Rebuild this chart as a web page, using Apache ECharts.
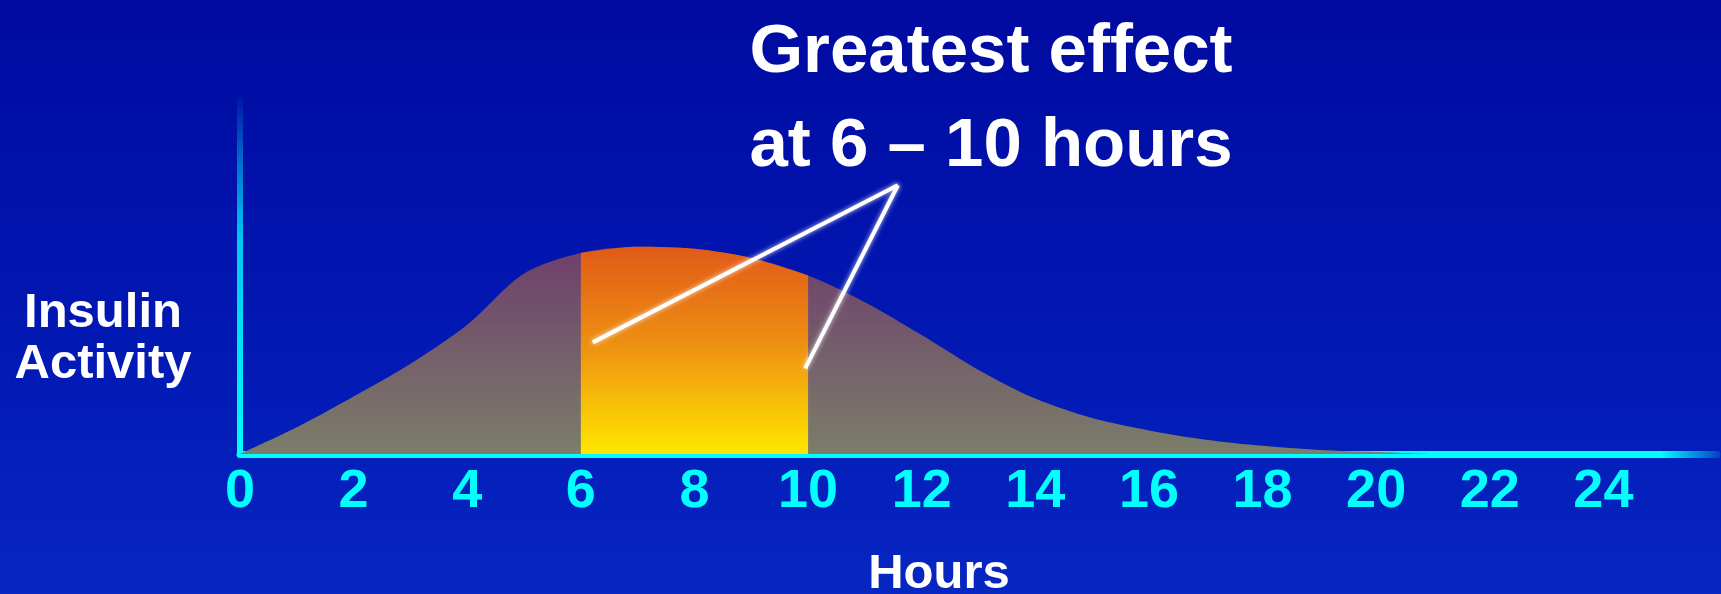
<!DOCTYPE html>
<html>
<head>
<meta charset="utf-8">
<title>Insulin Activity</title>
<script src="https://cdn.jsdelivr.net/npm/echarts@6.0.0/dist/echarts.min.js"></script>
<style>
    html, body { margin: 0; padding: 0; }
    body { background: linear-gradient(to bottom, #000aa0 0%, #0218b2 55%, #0726c2 100%); }
    #insulin_chart { width: 1721px; height: 594px; }
</style>
</head>
<body>
<div id="insulin_chart"></div>
<script>
// hours after injection and relative insulin activity
var hours    = [0, 1, 2, 3, 4, 5, 6, 7, 8, 9, 10, 11, 12, 13, 14, 15, 16, 17, 18, 19, 20, 21];
var activity = [0, 13, 28, 44, 63, 88, 98, 101, 100, 95.5, 87, 74, 58, 41, 27, 17.5, 11.5, 7, 4, 2, 1, 0];
var peakRange = [6, 10];
var tickHours = [0, 2, 4, 6, 8, 10, 12, 14, 16, 18, 20, 22, 24];
// pointer lines: [x, y] start -> end, in chart units
var pointerFrom = [11.58, 131];
var pointerTo   = [[6.21, 54.4], [9.95, 41.7]];

(function(){
    'use strict';
    var myChart = echarts.init(document.getElementById('insulin_chart'));

    var curve = [];
    var peak = [];
    for (var i = 0; i < hours.length; i++) {
        curve.push([hours[i], activity[i]]);
        if (hours[i] >= peakRange[0] && hours[i] <= peakRange[1]) {
            peak.push([hours[i], activity[i]]);
        }
    }

    var pointers = pointerTo.map(function(p){
        return [{coord: pointerFrom}, {coord: p}];
    });

    var font = '"Liberation Sans", Arial, Helvetica, sans-serif';

    var option = {
        backgroundColor: 'transparent',
        animation: false,
        title: [
            {
                text: 'Greatest effect\nat 6 – 10 hours',
                left: 991,
                top: 6,
                textAlign: 'center',
                padding: 0,
                textStyle: {color: '#ffffff', fontSize: 69, fontWeight: 'bold', lineHeight: 94, fontFamily: font}
            },
            {
                text: 'Insulin\nActivity',
                left: 103,
                top: 288,
                textAlign: 'center',
                padding: 0,
                textStyle: {color: '#ffffff', fontSize: 49, fontWeight: 'bold', lineHeight: 51, fontFamily: font}
            },
            {
                text: 'Hours',
                left: 939,
                top: 548,
                textAlign: 'center',
                padding: 0,
                textStyle: {color: '#ffffff', fontSize: 49, fontWeight: 'bold', lineHeight: 52, fontFamily: font}
            }
        ],
        grid: {left: 240, right: 4, top: 95, bottom: 140},
        xAxis: {
            type: 'value',
            min: 0,
            max: 26,
            interval: 2,
            splitLine: {show: false},
            axisTick: {show: false},
            axisLine: {
                show: true,
                lineStyle: {
                    width: 7,
                    color: new echarts.graphic.LinearGradient(0, 0, 1, 0, [
                        {offset: 0, color: '#00ffff'},
                        {offset: 0.96, color: '#00ffff'},
                        {offset: 1, color: 'rgba(0,255,255,0.15)'}
                    ])
                }
            },
            axisLabel: {
                showMaxLabel: false,
                margin: 11,
                color: '#00ffff',
                fontSize: 54,
                fontWeight: 'bold',
                fontFamily: font,
                formatter: function(v){ return tickHours.indexOf(v) >= 0 ? String(v) : ''; }
            }
        },
        yAxis: {
            type: 'value',
            min: 0,
            max: 175,
            splitLine: {show: false},
            axisTick: {show: false},
            axisLabel: {show: false},
            axisLine: {
                show: true,
                lineStyle: {
                    width: 6,
                    color: new echarts.graphic.LinearGradient(0, 0, 0, 1, [
                        {offset: 0, color: 'rgba(0,255,255,0)'},
                        {offset: 0.4, color: 'rgba(0,230,255,0.85)'},
                        {offset: 1, color: '#00ffff'}
                    ])
                }
            }
        },
        series: [
            {
                name: 'activity',
                type: 'line',
                data: curve,
                smooth: 0.3,
                symbol: 'none',
                silent: true,
                z: 2,
                lineStyle: {width: 0, opacity: 0},
                areaStyle: {
                    opacity: 1,
                    color: new echarts.graphic.LinearGradient(0, 0, 0, 1, [
                        {offset: 0, color: '#6e3e6c'},
                        {offset: 1, color: '#7b7e69'}
                    ])
                }
            },
            {
                name: 'peak',
                type: 'line',
                data: peak,
                smooth: 0.3,
                symbol: 'none',
                silent: true,
                z: 3,
                lineStyle: {width: 0, opacity: 0},
                areaStyle: {
                    opacity: 1,
                    color: new echarts.graphic.LinearGradient(0, 0, 0, 1, [
                        {offset: 0, color: '#e15a18'},
                        {offset: 0.45, color: '#ed8d12'},
                        {offset: 1, color: '#ffe600'}
                    ])
                },
                markLine: {
                    silent: true,
                    symbol: 'none',
                    label: {show: false},
                    lineStyle: {
                        type: 'solid',
                        color: '#ffffff',
                        width: 4,
                        shadowColor: 'rgba(255,255,255,0.8)',
                        shadowBlur: 5
                    },
                    data: pointers
                }
            }
        ]
    };
    myChart.setOption(option);
})();
</script>
</body>
</html>
